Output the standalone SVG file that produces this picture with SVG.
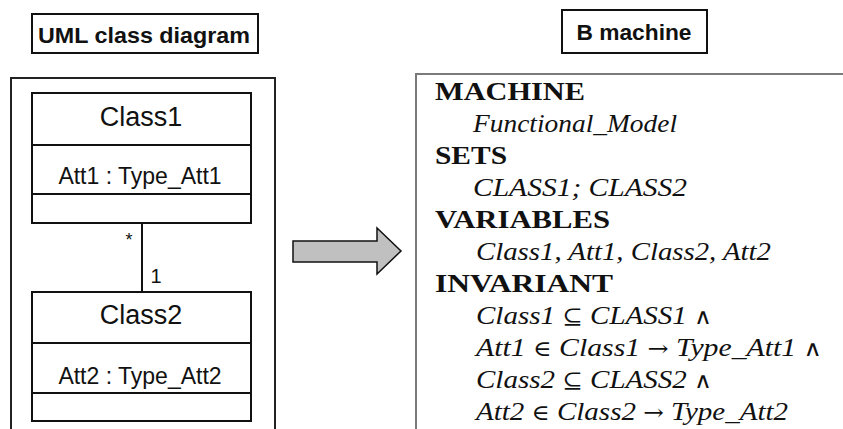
<svg xmlns="http://www.w3.org/2000/svg" width="843" height="429" viewBox="0 0 843 429">
<style>
.box{fill:#fff;stroke:#111;stroke-width:2}
.frame{fill:none;stroke:#222;stroke-width:2}
.bframe{fill:none;stroke:#7a7a7a;stroke-width:2}
.div{stroke:#111;stroke-width:2}
.title{font-family:"Liberation Sans",Arial,sans-serif;font-weight:bold;font-size:22px;fill:#111}
.cname{font-family:"Liberation Sans",Arial,sans-serif;font-size:27px;fill:#111}
.attr{font-family:"Liberation Sans",Arial,sans-serif;font-size:23px;fill:#111}
.mult{font-family:"Liberation Sans",Arial,sans-serif;font-size:20px;fill:#111}
.kw{font-family:"Liberation Serif","Times New Roman",serif;font-weight:bold;font-size:26px;fill:#111}
.id{font-family:"Liberation Serif","Times New Roman","DejaVu Serif",serif;font-style:italic;font-size:26px;fill:#111}
.sym{font-family:"DejaVu Serif",serif;font-style:normal;font-weight:normal;font-size:22px}
.assoc{stroke:#111;stroke-width:2;fill:none}
</style>
<rect width="843" height="429" fill="#fff"/>
<g id="uml-title">
<rect class="box" x="32" y="14" width="226" height="39"/>
<text class="title" x="144" y="43" text-anchor="middle" textLength="212" lengthAdjust="spacingAndGlyphs">UML class diagram</text>
</g>
<g id="b-title">
<rect class="box" x="562" y="10" width="145" height="43"/>
<text class="title" x="634" y="40" text-anchor="middle" textLength="115" lengthAdjust="spacingAndGlyphs">B machine</text>
</g>
<g id="uml-frame">
<rect class="frame" x="11" y="78" width="264" height="370"/>
</g>
<g id="class1">
<rect class="box" x="32" y="93" width="219" height="130"/>
<line class="div" x1="32" y1="145" x2="251" y2="145"/>
<line class="div" x1="32" y1="194" x2="251" y2="194"/>
<text class="cname" x="141" y="126" text-anchor="middle">Class1</text>
<text class="attr" x="140" y="184" text-anchor="middle">Att1 : Type_Att1</text>
</g>
<g id="class2">
<rect class="box" x="32" y="292" width="219" height="129"/>
<line class="div" x1="32" y1="343" x2="251" y2="343"/>
<line class="div" x1="32" y1="393" x2="251" y2="393"/>
<text class="cname" x="141" y="324" text-anchor="middle">Class2</text>
<text class="attr" x="140" y="383.5" text-anchor="middle">Att2 : Type_Att2</text>
</g>
<g id="connectors">
<line class="assoc" x1="142" y1="223" x2="142" y2="292"/>
<text class="mult" x="129" y="246" text-anchor="middle" style="font-size:18px">*</text>
<text class="mult" x="150.5" y="283">1</text>
</g>
<g id="transform-arrow">
<polygon points="293,241 377,241 377,228 401,251 377,274 377,262 293,262" fill="#c0c0c0" stroke="#111" stroke-width="1.5" stroke-linejoin="miter"/>
</g>
<g id="b-machine">
<rect class="bframe" x="416" y="74" width="460" height="380"/>
<text class="kw" x="435" y="100" textLength="150" lengthAdjust="spacingAndGlyphs">MACHINE</text>
<text class="id" x="473" y="132" textLength="204" lengthAdjust="spacingAndGlyphs">Functional_Model</text>
<text class="kw" x="435" y="164" textLength="72" lengthAdjust="spacingAndGlyphs">SETS</text>
<text class="id" x="473" y="196" textLength="214" lengthAdjust="spacingAndGlyphs">CLASS1; CLASS2</text>
<text class="kw" x="435" y="228" textLength="175" lengthAdjust="spacingAndGlyphs">VARIABLES</text>
<text class="id" x="476" y="260" textLength="295" lengthAdjust="spacingAndGlyphs">Class1, Att1, Class2, Att2</text>
<text class="kw" x="435" y="292" textLength="178" lengthAdjust="spacingAndGlyphs">INVARIANT</text>
<text class="id" x="476" y="324" textLength="236" lengthAdjust="spacingAndGlyphs">Class1 <tspan class="sym">⊆</tspan> CLASS1 <tspan class="sym">∧</tspan></text>
<text class="id" x="476" y="356" textLength="346" lengthAdjust="spacingAndGlyphs">Att1 <tspan class="sym">∈</tspan> Class1 <tspan class="sym">→</tspan> Type_Att1 <tspan class="sym">∧</tspan></text>
<text class="id" x="476" y="388" textLength="236" lengthAdjust="spacingAndGlyphs">Class2 <tspan class="sym">⊆</tspan> CLASS2 <tspan class="sym">∧</tspan></text>
<text class="id" x="476" y="420" textLength="312" lengthAdjust="spacingAndGlyphs">Att2 <tspan class="sym">∈</tspan> Class2 <tspan class="sym">→</tspan> Type_Att2</text>
</g>
</svg>
